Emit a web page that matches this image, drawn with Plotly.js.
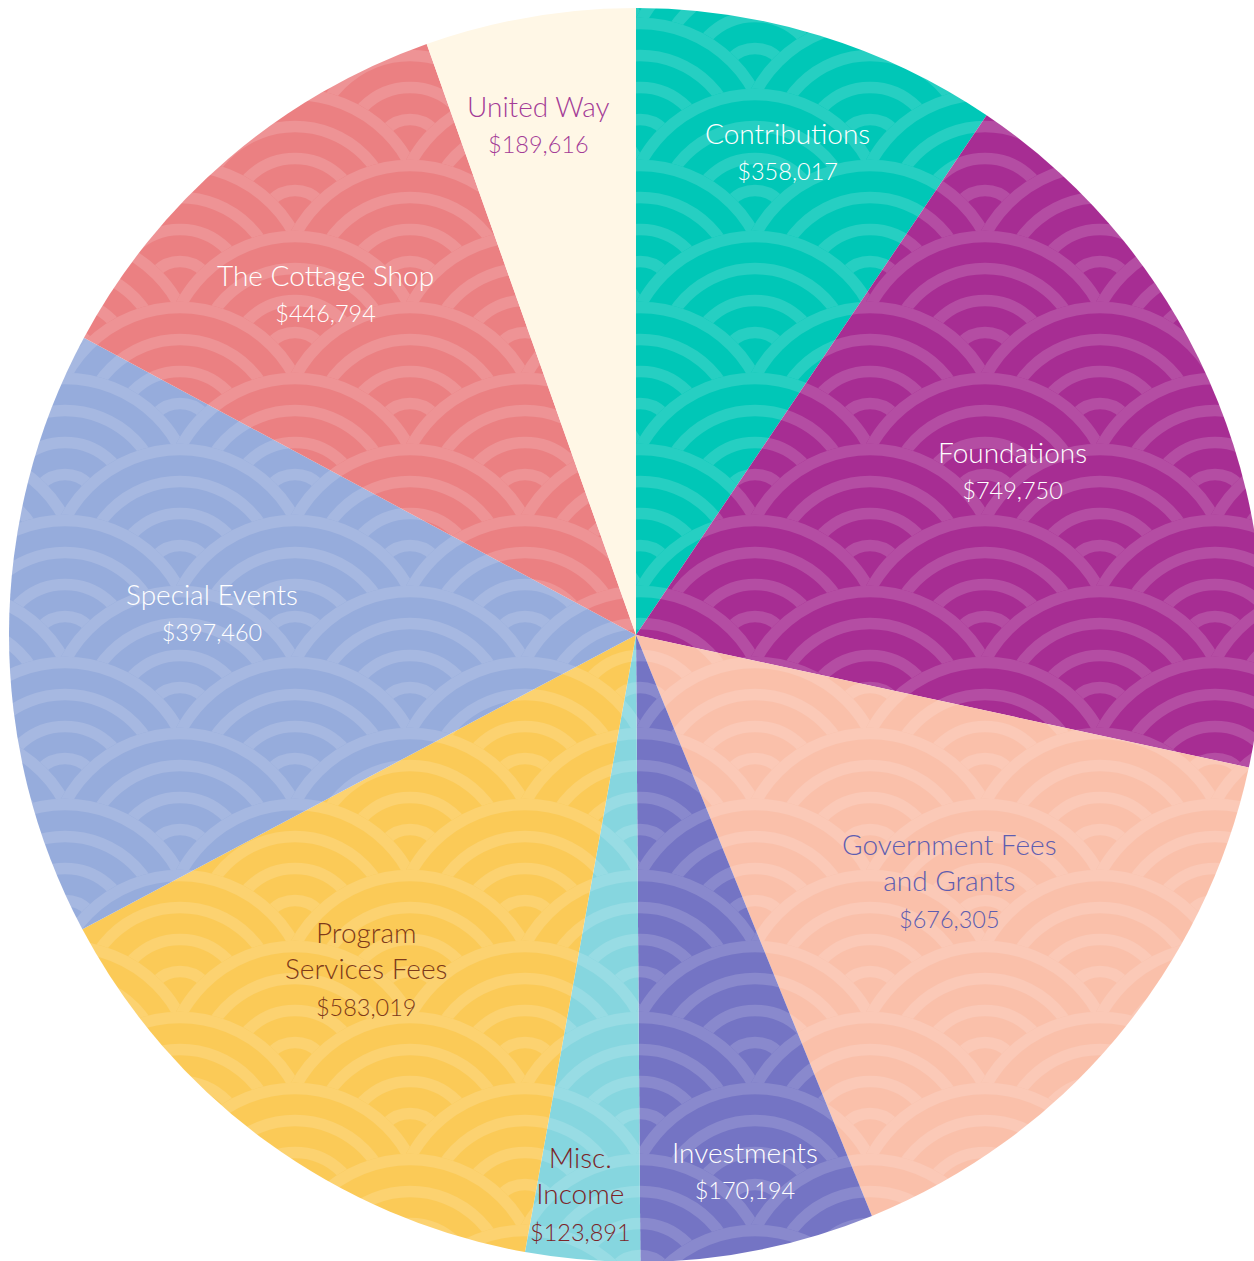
<!DOCTYPE html>
<html>
<head>
<meta charset="utf-8">
<script src="https://cdn.plot.ly/plotly-3.0.1.min.js"></script>
<style>
  html, body { margin: 0; padding: 0; background: #ffffff; overflow: hidden; }
  #chart { width: 1272px; height: 1280px; }
</style>
</head>
<body>
<div id="chart"></div>
<script>
// ---- data ----
const categories = ["Contributions", "Foundations", "Government Fees and Grants", "Investments",
                    "Misc. Income", "Program Services Fees", "Special Events", "The Cottage Shop", "United Way"];
const labelLines = ["Contributions", "Foundations", "Government Fees<br>and Grants", "Investments",
                    "Misc.<br>Income", "Program<br>Services Fees", "Special Events", "The Cottage Shop", "United Way"];
// amounts printed on the chart
const amounts = [358017, 749750, 676305, 170194, 123891, 583019, 397460, 446794, 189616];
// slice sizes as drawn in the picture (degrees of the circle)
const sliceDegrees = [34.0, 68.2, 55.7, 21.7, 10.6, 51.8, 56.3, 42.2, 19.5];

// ---- styles ----
const sliceColors = ["#00C7B7", "#A72D93", "#FAC0AA", "#7474C4", "#86D6DF", "#FBCA57", "#96ACDC", "#EB8082", "#FFF7E6"];
const textColors  = ["#FFFFFF", "#FFFFFF", "#5E5DB0", "#FFFFFF", "#7C2428", "#7E3A1A", "#FFFFFF", "#FFFFFF", "#A43C97"];
const patterned   = [true, true, true, true, true, true, true, true, false];
// label placement: radius as fraction of pie radius, small angular nudge from slice mid-angle (deg)
const labelRadius = [0.81, 0.655, 0.635, 0.87, 0.895, 0.684, 0.677, 0.738, 0.83];
const labelNudge  = [0.3, -1.8, -2.0, -0.3, 0.8, 3.0, 3.0, -1.6, -1.0];
const nameSize = 28, amountSize = 23.5;

const W = 1272, H = 1280;
const M = { l: 9, r: 9, t: 8, b: 18 };
const plotW = W - M.l - M.r, plotH = H - M.t - M.b;
const R = Math.min(plotW, plotH) / 2;

const fmt = v => "$" + v.toLocaleString("en-US");
const texts = labelLines.map((l, i) => l + "<br><span style=\"font-size:" + amountSize + "px\">" + fmt(amounts[i]) + "</span>");

const trace = {
  type: "pie",
  labels: categories,
  values: sliceDegrees,
  textinfo: "none",
  sort: false,
  direction: "clockwise",
  rotation: 0,
  marker: { colors: sliceColors, line: { width: 0 } },
  hoverinfo: "none",
  showlegend: false
};

// annotations placed along each slice's mid-angle, computed from the data
const total = sliceDegrees.reduce((a, b) => a + b, 0);
let cum = 0;
const annotations = sliceDegrees.map((v, i) => {
  const mid = (cum + v / 2) / total * 360 + labelNudge[i];
  cum += v;
  const a = mid * Math.PI / 180;
  const r = labelRadius[i] * R;
  const dx = r * Math.sin(a), dy = r * Math.cos(a);   // dy upward
  return {
    xref: "paper", yref: "paper",
    x: 0.5 + dx / plotW, y: 0.5 + dy / plotH,
    xanchor: "center", yanchor: "middle",
    showarrow: false,
    text: texts[i],
    align: "center",
    font: { family: "Lato, 'Open Sans', sans-serif", size: nameSize, weight: 300, color: textColors[i] }
  };
});

const layout = {
  width: W,
  height: H,
  margin: M,
  paper_bgcolor: "#ffffff",
  showlegend: false,
  annotations: annotations
};

function blend(hex, a) {
  const n = parseInt(hex.slice(1), 16);
  const r = (n >> 16) & 255, g = (n >> 8) & 255, b = n & 255;
  const m = c => Math.round(c + (255 - c) * a);
  return "rgb(" + m(r) + "," + m(g) + "," + m(b) + ")";
}

function addPatterns(gd) {
  const NS = "http://www.w3.org/2000/svg";
  const svg = gd.querySelector("svg.main-svg");
  let defs = svg.querySelector("defs");
  if (!defs) { defs = document.createElementNS(NS, "defs"); svg.insertBefore(defs, svg.firstChild); }
  const PW = 230, PH = 142, DY = 71, CR = 135.3;
  const rings = [129.5, 97.5, 65.5, 33.5];
  const sw = 11.5;
  gd.querySelectorAll("g.slice").forEach((g, i) => {
    if (!patterned[i]) return;
    const base = sliceColors[i];
    const ringCol = blend(base, 0.15);
    const pat = document.createElementNS(NS, "pattern");
    pat.setAttribute("id", "seig" + i);
    pat.setAttribute("patternUnits", "userSpaceOnUse");
    pat.setAttribute("width", PW);
    pat.setAttribute("height", PH);
    pat.setAttribute("patternTransform", "translate(180,11)");
    let html = '<rect x="0" y="0" width="' + PW + '" height="' + PH + '" fill="' + base + '"/>';
    for (let row = -1; row <= 3; row++) {
      const y = row * DY;
      const off = (Math.abs(row) % 2 === 1) ? PW / 2 : 0;
      for (let k = -1; k <= 2; k++) {
        const x = off + k * PW;
        if (x + CR < 0 || x - CR > PW) continue;
        html += '<circle cx="' + x + '" cy="' + y + '" r="' + CR + '" fill="' + base + '"/>';
        rings.forEach(rr => {
          html += '<circle cx="' + x + '" cy="' + y + '" r="' + rr + '" fill="none" stroke="' + ringCol + '" stroke-width="' + sw + '"/>';
        });
      }
    }
    pat.innerHTML = html;
    defs.appendChild(pat);
    const surf = g.querySelector("path.surface");
    if (surf) surf.style.fill = "url(#seig" + i + ")";
  });
}

Plotly.newPlot("chart", [trace], layout, { displayModeBar: false, staticPlot: true })
  .then(gd => addPatterns(gd));
</script>
</body>
</html>
